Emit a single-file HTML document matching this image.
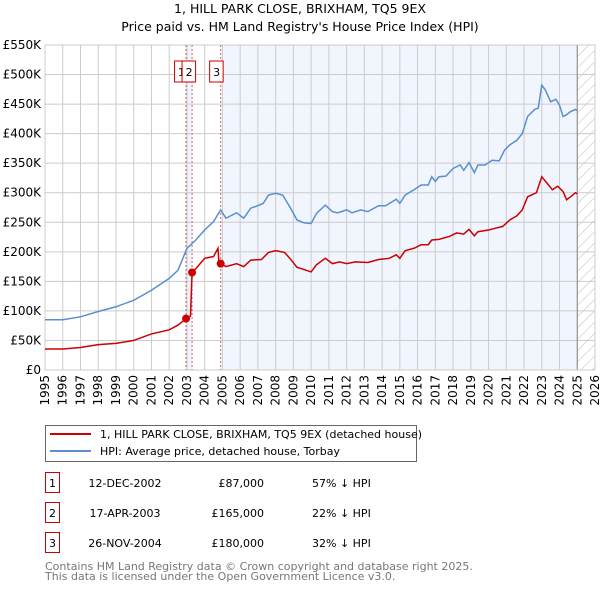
<!DOCTYPE html>
<html><head><meta charset="utf-8"><style>
body{margin:0;background:#fff;font-family:"DejaVu Sans","Liberation Sans",sans-serif;}
svg text{font-family:"DejaVu Sans","Liberation Sans",sans-serif;}
</style></head><body>
<svg id="chart" width="600" height="590">
<defs><pattern id="hatch" width="8" height="8" patternUnits="userSpaceOnUse" patternTransform="rotate(45)"><line x1="0" y1="0" x2="0" y2="8" stroke="#bbb" stroke-width="1"/></pattern></defs>
<text x="300" y="13" text-anchor="middle" font-size="12.5">1, HILL PARK CLOSE, BRIXHAM, TQ5 9EX</text>
<text x="300" y="31" text-anchor="middle" font-size="12.5">Price paid vs. HM Land Registry's House Price Index (HPI)</text>
<g id="plot"></g>
<g>
<rect x="45.5" y="425.5" width="371" height="36" fill="#fff" stroke="#666"/>
<line x1="50" y1="434" x2="91" y2="434" stroke="#cc0000" stroke-width="2"/>
<text x="100" y="438" font-size="11">1, HILL PARK CLOSE, BRIXHAM, TQ5 9EX (detached house)</text>
<line x1="50" y1="451" x2="91" y2="451" stroke="#5b8fd0" stroke-width="2"/>
<text x="100" y="455" font-size="11">HPI: Average price, detached house, Torbay</text>
</g>
<g id="table" font-size="11"></g>
<text x="45" y="570" font-size="11" fill="#777">Contains HM Land Registry data © Crown copyright and database right 2025.</text>
<text x="45" y="580" font-size="11" fill="#777">This data is licensed under the Open Government Licence v3.0.</text>
</svg>
<script>
const yTicks=[0,50,100,150,200,250,300,350,400,450,500,550];
const yTickLabels=["£0","£50K","£100K","£150K","£200K","£250K","£300K","£350K","£400K","£450K","£500K","£550K"];
const xYears=[1995,1996,1997,1998,1999,2000,2001,2002,2003,2004,2005,2006,2007,2008,2009,2010,2011,2012,2013,2014,2015,2016,2017,2018,2019,2020,2021,2022,2023,2024,2025,2026];
const hpiT=[1995,1996,1997,1998,1999,2000,2001,2002,2002.5,2003,2003.5,2004,2004.5,2004.9,2005.2,2005.8,2006.2,2006.6,2007,2007.3,2007.6,2008,2008.4,2008.8,2009.2,2009.6,2010,2010.3,2010.8,2011.2,2011.5,2012,2012.3,2012.8,2013.2,2013.8,2014.2,2014.8,2015,2015.3,2015.8,2016.2,2016.6,2016.8,2017,2017.2,2017.6,2018,2018.4,2018.6,2018.9,2019.2,2019.4,2019.8,2020.2,2020.6,2020.9,2021.2,2021.6,2021.9,2022.2,2022.6,2022.8,2023,2023.2,2023.5,2023.8,2024,2024.2,2024.4,2024.6,2024.9,2025];
const hpiV=[85,85,90,99,107,118,135,155,169,206,220,237,251,271,257,266,257,274,278,282,296,299,296,276,254,249,248,265,279,268,266,271,266,271,268,278,278,289,282,296,305,313,313,327,319,327,328,341,347,338,351,334,347,347,355,354,372,381,389,400,429,441,443,482,474,454,458,448,429,432,437,441,439];
const ppT=[1995,1996,1997,1998,1999,2000,2001,2002,2002.5,2002.95,2003.2,2003.29,2003.6,2004,2004.5,2004.75,2004.8,2004.9,2005.2,2005.8,2006.2,2006.6,2007.2,2007.6,2008,2008.5,2008.8,2009.2,2009.6,2010,2010.3,2010.8,2011.2,2011.6,2012,2012.5,2013.2,2013.8,2014.4,2014.8,2015,2015.3,2015.8,2016.2,2016.6,2016.8,2017.2,2017.8,2018.2,2018.6,2018.9,2019.2,2019.4,2020,2020.4,2020.8,2021.2,2021.6,2021.9,2022.2,2022.7,2023,2023.3,2023.6,2023.9,2024.2,2024.4,2024.7,2024.9,2025];
const ppV=[35.5,35.5,38,43,45,50,61,68,76,87,91,165,175,189,192,206,183,180,175,180,175,186,187,199,202,199,189,174,170,166,178,189,180,183,180,183,182,187,189,195,189,202,206,212,212,220,221,226,232,230,238,227,234,237,240,243,254,261,271,293,300,327,316,305,311,302,288,295,300,298];
const saleLabels=["1","2","3"];
const saleT=[2002.95,2003.29,2004.9];
const saleV=[87,165,180];
const saleDates=["12-DEC-2002","17-APR-2003","26-NOV-2004"];
const salePrices=["£87,000","£165,000","£180,000"];
const saleDiff=["57% ↓ HPI","22% ↓ HPI","32% ↓ HPI"];

const L=45,R=595,T=45,B=370;
const X=t=>L+(t-1995)*(R-L)/31;
const Y=v=>B-v*(B-T)/550;
const NS="http://www.w3.org/2000/svg";
const plot=document.getElementById('plot');
function mk(tag,attrs,parent){const e=document.createElementNS(NS,tag);for(const k in attrs)e.setAttribute(k,attrs[k]);(parent||plot).appendChild(e);return e;}
mk('rect',{x:L,y:T,width:R-L,height:B-T,fill:'#fff'});
let s=mk('rect',{x:X(2004.9),y:T,width:X(2025)-X(2004.9),height:B-T,fill:'#eef3fc',opacity:0.8});


s=mk('rect',{x:X(2002.95),y:T,width:X(2003.29)-X(2002.95),height:B-T,fill:'#eef3fc'});


s=mk('rect',{x:X(2025),y:T,width:R-X(2025),height:B-T,fill:'url(#hatch)'});


yTicks.forEach((v,i)=>{
  mk('line',{x1:L,x2:R,y1:Y(v),y2:Y(v),stroke:'#ccc'});
  const t=mk('text',{x:L-4,y:Y(v)+4,'text-anchor':'end','font-size':12});t.textContent=yTickLabels[i];
  
  
});
xYears.forEach(yr=>{
  mk('line',{x1:X(yr),x2:X(yr),y1:T,y2:B,stroke:'#ccc'});
  const t=mk('text',{x:0,y:0,'text-anchor':'end','font-size':12,transform:`translate(${X(yr)+4},${B+5}) rotate(-90)`});t.textContent=yr;
  
  
});
mk('line',{x1:X(2025),x2:X(2025),y1:T,y2:B,stroke:'#888','stroke-width':1});
mk('rect',{x:L,y:T,width:R-L,height:B-T,fill:'none',stroke:'#ccc'});
saleT.forEach((t,i)=>{
  const l=mk('line',{x1:X(t),x2:X(t),y1:T,y2:B,stroke:'#e06060','stroke-dasharray':'2,2'});
  
  
});
const hp=mk('polyline',{points:hpiT.map((t,i)=>X(t)+','+Y(hpiV[i])).join(' '),fill:'none',stroke:'#5b8fd0','stroke-width':1.5});


const pp=mk('polyline',{points:ppT.map((t,i)=>X(t)+','+Y(ppV[i])).join(' '),fill:'none',stroke:'#cc0000','stroke-width':1.5});


const boxOff=[-5,-3.5,-4.5];
saleT.forEach((t,i)=>{
  const c=mk('circle',{cx:X(t),cy:Y(saleV[i]),r:4,fill:'#cc0000'});
  
  
  const bx=X(t)+boxOff[i];
  const g=mk('g',{});
  
  
  mk('rect',{x:bx-6.5,y:61,width:13.5,height:21,fill:'#fff',stroke:'#cc0000'},g);
  const tx=mk('text',{x:bx+0.5,y:76,'text-anchor':'middle','font-size':11},g);tx.textContent=saleLabels[i];
});
const tb=document.getElementById('table');
saleLabels.forEach((lab,i)=>{
  const y=483+i*30;
  const g=mk('g',{},tb);
  
  
  mk('rect',{x:45.5,y:y-10.5,width:14,height:20,fill:'#fff',stroke:'#cc0000'},g);
  let t=mk('text',{x:52.5,y:y+4,'text-anchor':'middle'},g);t.textContent=lab;
  t=mk('text',{x:125,y:y+4,'text-anchor':'middle'},g);t.textContent=saleDates[i];
  t=mk('text',{x:264,y:y+4,'text-anchor':'end'},g);t.textContent=salePrices[i];
  t=mk('text',{x:312,y:y+4},g);t.textContent=saleDiff[i];
});
</script>
</body></html>
